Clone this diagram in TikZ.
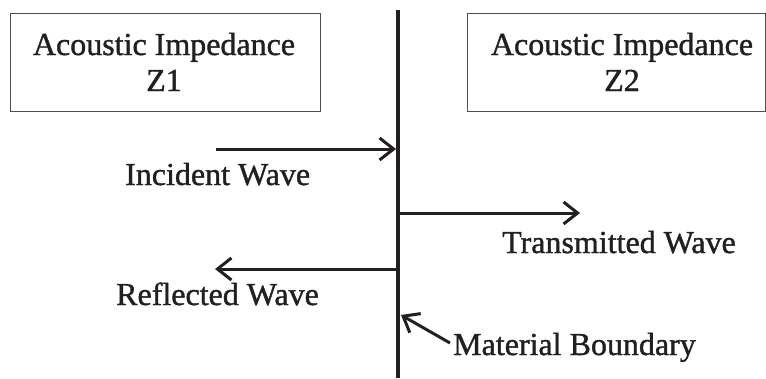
\documentclass[tikz,border=0pt]{standalone}
\usepackage{fontspec}
\setmainfont{Liberation Serif}
\newfontface\heavy{Liberation Serif}[FakeBold=1.2]
\usetikzlibrary{arrows.meta}
\definecolor{ink}{RGB}{35,31,32}
\begin{document}
\begin{tikzpicture}[x=1pt,y=-1pt,
  boxstyle/.style={draw=ink!80, line width=1pt, rectangle, inner sep=0pt},
  txt/.style={font=\heavy\fontsize{32}{36}\selectfont, text=ink, inner sep=0pt},
  arr/.style={draw=ink, line width=3pt, -{Straight Barb[length=14pt,width=22pt,line width=3pt]}},
  wall/.style={draw=ink, line width=4pt}]
\useasboundingbox (0,0) rectangle (766,378);
% boxes
\node[boxstyle, minimum width=310pt, minimum height=98pt] (box1) at (165,62) {};
\node[boxstyle, minimum width=298pt, minimum height=98pt] (box2) at (616,62) {};
\node[txt, align=center, anchor=base] (z1) at (164,91) {Acoustic Impedance\\Z1};
\node[txt, align=center, anchor=base] (z2) at (622,91) {Acoustic Impedance\\Z2};
% boundary
\coordinate (top) at (398,10);
\coordinate (bot) at (398,378);
\draw[wall] (top) -- (bot);
% waves
\coordinate (inc) at (216,149);
\coordinate (inctip) at (396,149);
\draw[arr] (inc) -- (inctip);
\node[txt, anchor=base west] (inclab) at (125,185) {Incident Wave};
\coordinate (trs) at (398,213);
\coordinate (trstip) at (580,213);
\draw[arr] (trs) -- (trstip);
\node[txt, anchor=base west] (trslab) at (502,253) {Transmitted Wave};
\coordinate (ref) at (398,269);
\coordinate (reftip) at (215,269);
\draw[arr] (ref) -- (reftip);
\node[txt, anchor=base west] (reflab) at (116,305) {Reflected Wave};
\node[txt, anchor=base west] (mb) at (453,355) {Material Boundary};
\coordinate (mbtail) at (450,343);
\coordinate (mbtip) at (401,315);
\draw[arr] (mbtail) -- (mbtip);
\end{tikzpicture}
\end{document}
